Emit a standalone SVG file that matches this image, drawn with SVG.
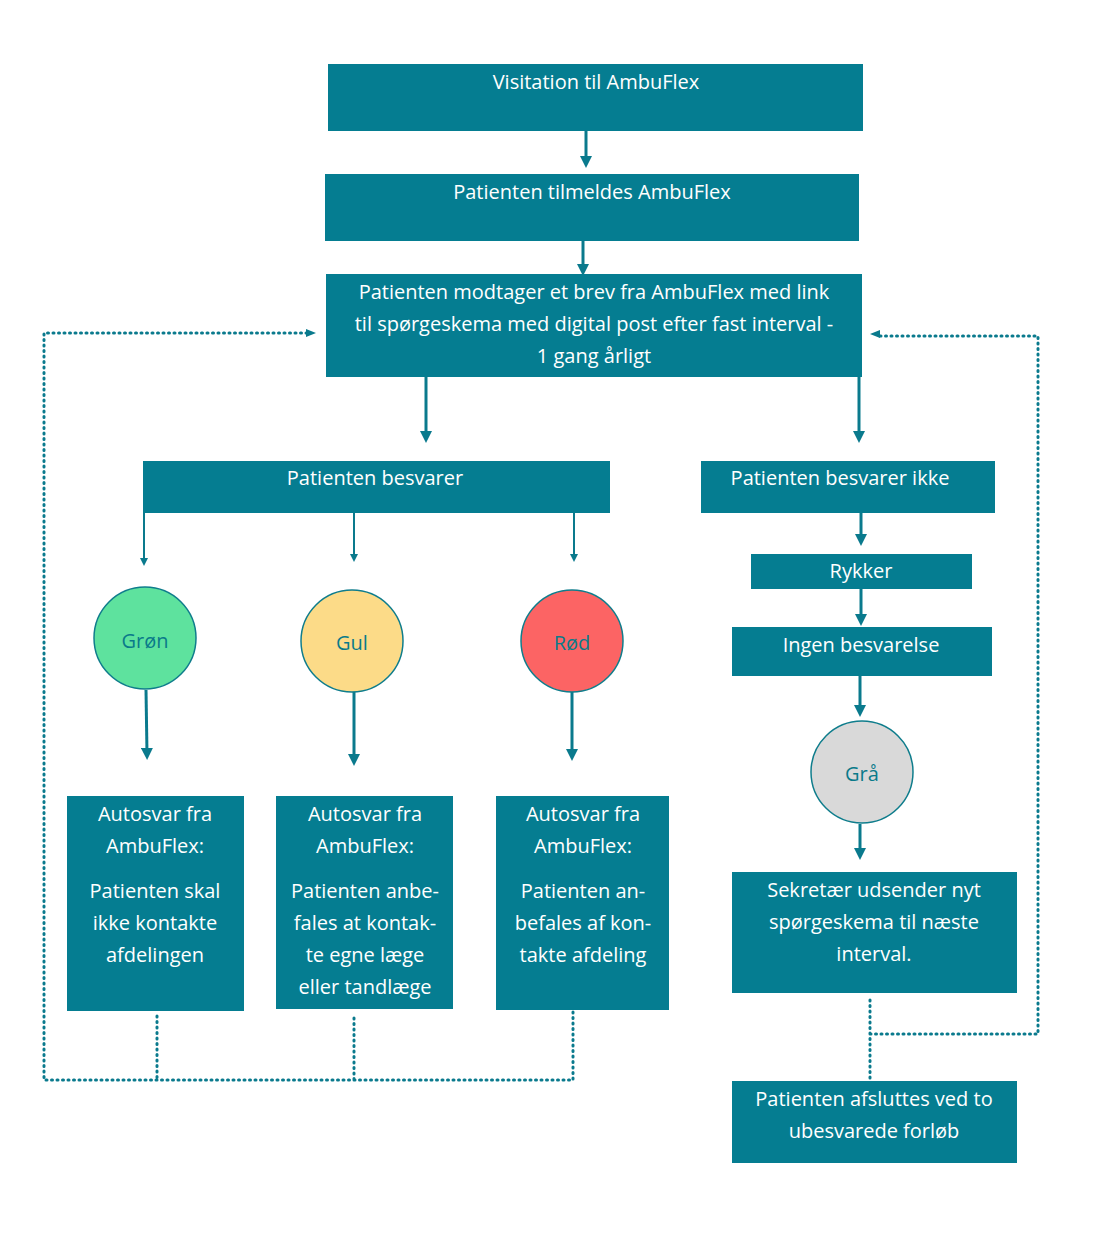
<svg xmlns="http://www.w3.org/2000/svg" width="1104" height="1244" viewBox="0 0 1104 1244">
<style>
.b{fill:#057d91}
.t{font-family:"Open Sans",sans-serif;font-size:20px;fill:#fff;text-anchor:middle}
.c{font-family:"Open Sans",sans-serif;font-size:20px;fill:#0a7a8a;text-anchor:middle}
.cr{stroke:#0f7d8c;stroke-width:1.5}
.a{stroke:#0a7a8d;stroke-width:3;fill:none;marker-end:url(#m)}
.a2{stroke:#0a7a8d;stroke-width:2;fill:none;marker-end:url(#m)}
.d{stroke:#0a7a8d;stroke-width:3;fill:none;stroke-dasharray:1 4.5;stroke-linecap:round}
</style>
<defs><marker id="m" markerWidth="4" markerHeight="4" refX="2" refY="2" orient="auto" markerUnits="strokeWidth"><path d="M0,0L4,2L0,4z" fill="#0a7a8d"/></marker>
<marker id="m2" markerWidth="8" markerHeight="8" refX="4" refY="4" orient="auto" markerUnits="userSpaceOnUse"><path d="M0,0L8,4L0,8z" fill="#0a7a8d"/></marker></defs>
<rect width="1104" height="1244" fill="#fff"/>
<g id="connectors">
<path class="a" d="M586 131V162"/>
<path class="a" d="M583 241V270"/>
<path class="a" d="M426 377V437"/>
<path class="a" d="M859 377V437"/>
<path class="a2" d="M144 513V562"/>
<path class="a2" d="M354 513V558"/>
<path class="a2" d="M574 513V558"/>
<path class="a" d="M861 513V540"/>
<path class="a" d="M861 589V620"/>
<path class="a" d="M860 676V711"/>
<path class="a" d="M146 690L147 754"/>
<path class="a" d="M354 692V760"/>
<path class="a" d="M572 692V755"/>
<path class="a" d="M860 824V854"/>
<path class="d" d="M157 1016V1080M354 1018V1080M573 1012V1080H44V333H308"/>
<path class="d" d="M870 1000V1078M870 1034H1038V336H880"/>
<path d="M306 329L316 333L306 337z" fill="#0a7a8d"/>
<path d="M880 330L870 334L880 338z" fill="#0a7a8d"/>
</g>
<g id="n1"><rect class="b" x="328" y="64" width="535" height="67"/><text class="t" x="596" y="89">Visitation til AmbuFlex</text></g>
<g id="n2"><rect class="b" x="325" y="174" width="534" height="67"/><text class="t" x="592" y="199">Patienten tilmeldes AmbuFlex</text></g>
<g id="n3"><rect class="b" x="326" y="274" width="536" height="103"/><text class="t" x="594" y="299">Patienten modtager et brev fra AmbuFlex med link</text><text class="t" x="594" y="331">til spørgeskema med digital post efter fast interval -</text><text class="t" x="594" y="363">1 gang årligt</text></g>
<g id="n4"><rect class="b" x="143" y="461" width="467" height="52"/><text class="t" x="375" y="485">Patienten besvarer</text></g>
<g id="n5"><rect class="b" x="701" y="461" width="294" height="52"/><text class="t" x="840" y="485">Patienten besvarer ikke</text></g>
<g id="n6"><rect class="b" x="751" y="554" width="221" height="35"/><text class="t" x="861" y="578">Rykker</text></g>
<g id="n7"><rect class="b" x="732" y="627" width="260" height="49"/><text class="t" x="861" y="652">Ingen besvarelse</text></g>
<g id="gron"><circle class="cr" cx="145" cy="638" r="51" fill="#5ee29e"/><text class="c" x="145" y="648">Grøn</text></g>
<g id="gul"><circle class="cr" cx="352" cy="641" r="51" fill="#fcdb88"/><text class="c" x="352" y="650">Gul</text></g>
<g id="rod"><circle class="cr" cx="572" cy="641" r="51" fill="#fc6464"/><text class="c" x="572" y="650">Rød</text></g>
<g id="gra"><circle class="cr" cx="862" cy="772" r="51" fill="#d9d9d9"/><text class="c" x="862" y="781">Grå</text></g>
<g id="a1"><rect class="b" x="67" y="796" width="177" height="215"/><text class="t"><tspan x="155" y="821">Autosvar fra</tspan><tspan x="155" y="853">AmbuFlex:</tspan><tspan x="155" y="898">Patienten skal</tspan><tspan x="155" y="930">ikke kontakte</tspan><tspan x="155" y="962">afdelingen</tspan></text></g>
<g id="a2"><rect class="b" x="276" y="796" width="177" height="213"/><text class="t"><tspan x="365" y="821">Autosvar fra</tspan><tspan x="365" y="853">AmbuFlex:</tspan><tspan x="365" y="898">Patienten anbe-</tspan><tspan x="365" y="930">fales at kontak-</tspan><tspan x="365" y="962">te egne læge</tspan><tspan x="365" y="994">eller tandlæge</tspan></text></g>
<g id="a3"><rect class="b" x="496" y="796" width="173" height="214"/><text class="t"><tspan x="583" y="821">Autosvar fra</tspan><tspan x="583" y="853">AmbuFlex:</tspan><tspan x="583" y="898">Patienten an-</tspan><tspan x="583" y="930">befales af kon-</tspan><tspan x="583" y="962">takte afdeling</tspan></text></g>
<g id="s"><rect class="b" x="732" y="872" width="285" height="121"/><text class="t"><tspan x="874" y="897">Sekretær udsender nyt</tspan><tspan x="874" y="929">spørgeskema  til næste</tspan><tspan x="874" y="961">interval.</tspan></text></g>
<g id="e"><rect class="b" x="732" y="1081" width="285" height="82"/><text class="t"><tspan x="874" y="1106">Patienten afsluttes ved to</tspan><tspan x="874" y="1138">ubesvarede forløb</tspan></text></g>
</svg>
